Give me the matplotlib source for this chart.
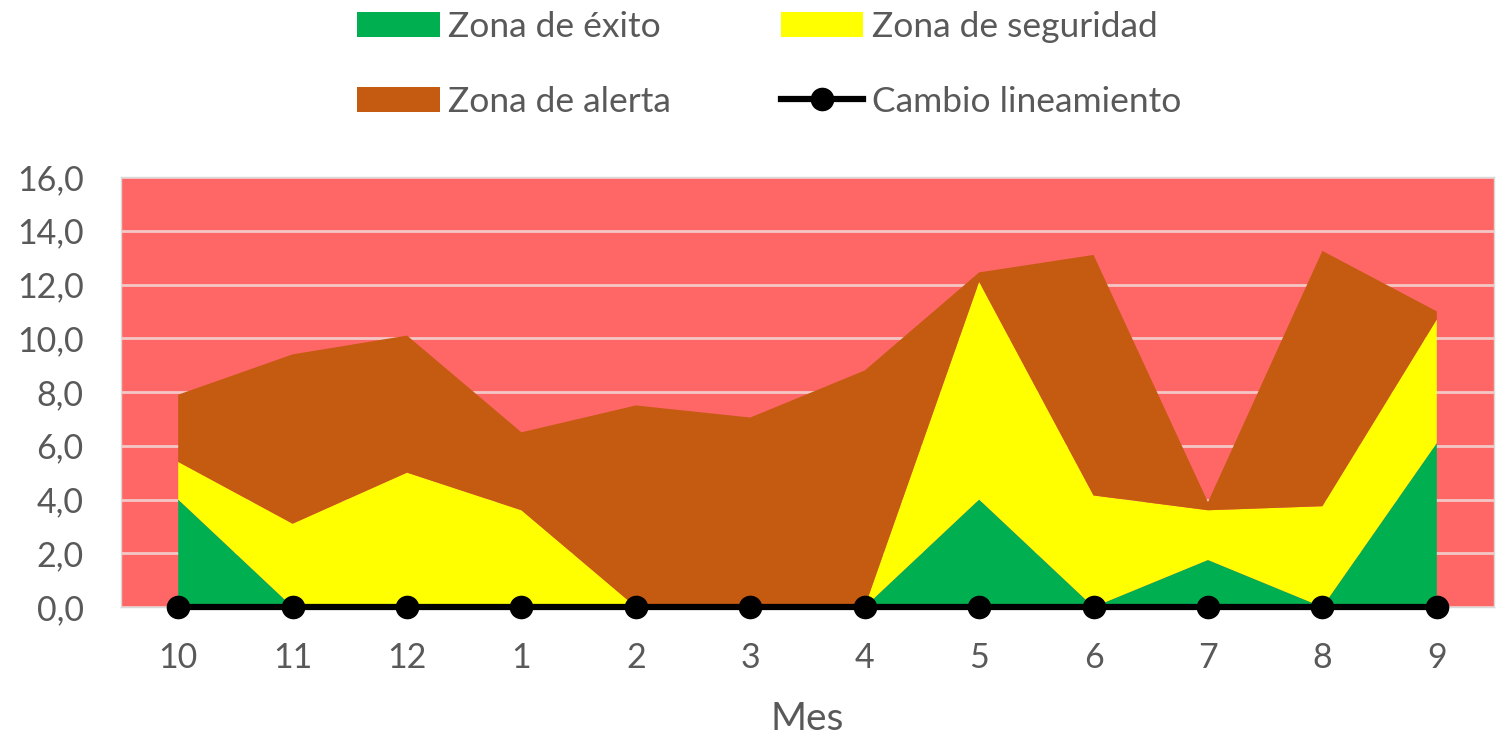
import matplotlib.pyplot as plt
import numpy as np

# months shown on the x axis
meses = ['10', '11', '12', '1', '2', '3', '4', '5', '6', '7', '8', '9']

# stacked zone thicknesses
zona_exito = [4.0, 0, 0, 0, 0, 0, 0, 4.0, 0, 1.75, 0, 6.1]
zona_seguridad = [1.4, 3.1, 5.0, 3.6, 0, 0, 0, 8.1, 4.15, 1.85, 3.75, 4.6]
zona_alerta = [2.5, 6.3, 5.1, 2.9, 7.5, 7.05, 8.8, 0.35, 8.95, 0.3, 9.5, 0.3]
cambio_lineamiento = [0, 0, 0, 0, 0, 0, 0, 0, 0, 0, 0, 0]

y_ticks = [0, 2, 4, 6, 8, 10, 12, 14, 16]

plt.rcParams['font.family'] = ['Lato', 'DejaVu Sans']
gris = '#595959'

fig = plt.figure(figsize=(14.99, 7.38), dpi=100)
ax = fig.add_axes([121 / 1499, 1 - 607 / 738, (1494 - 121) / 1499, (607 - 177) / 738])

x = np.arange(len(meses))
ax.set_facecolor('#FF6666')
ax.stackplot(x, zona_exito, zona_seguridad, zona_alerta,
             colors=['#00B050', '#FFFF00', '#C55A11'],
             labels=['Zona de éxito', 'Zona de seguridad', 'Zona de alerta'],
             zorder=3)
ax.plot(x, cambio_lineamiento, color='black', linewidth=4.5, marker='o',
        markersize=16, label='Cambio lineamiento', zorder=5, clip_on=False)

ax.set_xlim(-0.5, len(meses) - 0.5)
ax.set_ylim(0, 16)
ax.set_yticks(y_ticks)
ax.set_yticklabels([f'{v:.1f}'.replace('.', ',') for v in y_ticks])
ax.set_xticks(x)
ax.set_xticklabels(meses)
ax.yaxis.grid(True, color='#F4C7C7', linewidth=2, zorder=1)
ax.set_axisbelow(True)
ax.tick_params(axis='both', length=0, labelsize=24.5, labelcolor=gris)
ax.tick_params(axis='y', pad=27)
ax.tick_params(axis='x', pad=25)
for s in ax.spines.values():
    s.set_color('#D9D9D9')
    s.set_linewidth(1)
ax.set_xlabel('Mes', fontsize=28, color=gris, labelpad=20)

h, l = ax.get_legend_handles_labels()
order = [0, 2, 1, 3]
fig.legend([h[i] for i in order], [l[i] for i in order], ncol=2,
           loc='upper left', bbox_to_anchor=(325 / 1499, 1.028), frameon=False,
           fontsize=25.5, labelcolor=gris, handlelength=2.34, handletextpad=0.23,
           labelspacing=1.2, columnspacing=3.1)

fig.savefig('out.png', dpi=100)
